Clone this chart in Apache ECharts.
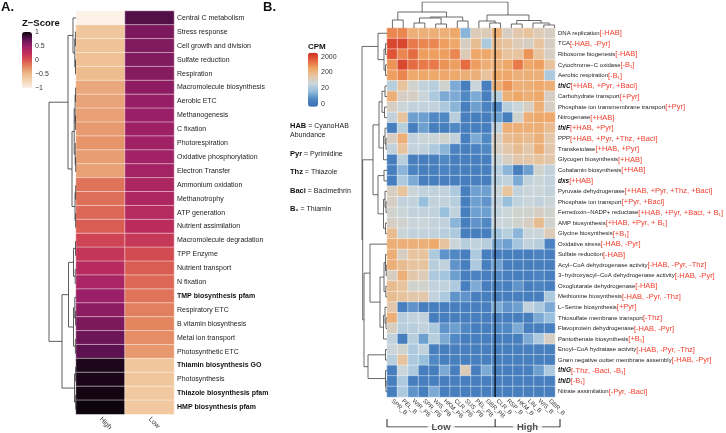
<!DOCTYPE html>
<html>
<head>
<meta charset="utf-8">
<script src="https://cdn.jsdelivr.net/npm/echarts@6/dist/echarts.min.js"></script>
<style>
html, body { margin: 0; padding: 0; background: #fff; }
#chart { width: 726px; height: 433px; }
</style>
</head>
<body>
<div id="chart"></div>
<script>
// ---------- panel A data ----------
const funcA = ['Central C metabolism', 'Stress response', 'Cell growth and division', 'Sulfate reduction',
    'Respiration', 'Macromolecule biosynthesis', 'Aerobic ETC', 'Methanogenesis', 'C fixation',
    'Photorespiration', 'Oxidative phosphorylation', 'Electron Transfer', 'Ammonium oxidation',
    'Methanotrophy', 'ATP generation', 'Nutrient assimilation', 'Macromolecule degradation',
    'TPP Enzyme', 'Nutrient transport', 'N fixation', 'TMP biosynthesis pfam', 'Respiratory ETC',
    'B vitamin biosynthesis', 'Metal ion transport', 'Photosynthetic ETC', 'Thiamin biosynthesis GO',
    'Photosynthesis', 'Thiazole biosynthesis pfam', 'HMP biosynthesis pfam'];
const boldA = ['TMP biosynthesis pfam', 'Thiamin biosynthesis GO', 'Thiazole biosynthesis pfam', 'HMP biosynthesis pfam'];
const groupsA = ['High', 'Low'];
const zHigh = [-1, -0.6, -0.57, -0.55, -0.52, -0.4, -0.38, -0.36, -0.33, -0.3, -0.35, -0.37, -0.15,
    -0.13, -0.1, -0.05, 0.1, 0.2, 0.3, 0.4, 0.5, 0.55, 0.62, 0.68, 0.75, 0.95, 0.96, 0.98, 1];
const zLow = [0.78, 0.62, 0.6, 0.6, 0.58, 0.55, 0.52, 0.5, 0.48, 0.46, 0.45, 0.44, 0.38, 0.36, 0.32,
    0.28, 0.18, 0.05, -0.05, -0.1, -0.15, -0.2, -0.23, -0.27, -0.32, -0.6, -0.6, -0.62, -0.62];
const zTicks = [-1, -0.5, 0, 0.5, 1];
const zTickLabels = ['\u22121', '\u22120.5', '0', '0.5', '1'];
// row dendrogram, nodes are [left, right, height]
const treeA = [[[0, [[1, 2, 0.6], [3, 4, 0.5], 1.2], 3],
    [[[[5, 6, 0.4], [7, 8, 0.4], 0.9], [9, [10, 11, 0.3], 0.8], 1.8], [[12, 13, 0.3], [14, 15, 0.3], 1.0], 4], 8],
    [[[[16, 17, 0.5], [18, 19, 0.8], 2.5], [[20, [21, 22, 0.4], 1.2], [23, 24, 0.6], 2.5], 7.5],
    [[25, 26, 0.3], [27, 28, 0.3], 1.5], 14], 27];

// ---------- panel B data ----------
const samplesB = ['SPR_B', 'PEL_B', 'WIR_PB', 'SPR_PB', 'WIS_PB', 'HKM_PB', 'CLR_PB', 'SUS_PB', 'PEL_PB',
    'GBR_PB', 'CLR_B', 'RSP_B', 'HKM_B', 'LIN_B', 'WIS_B', 'GBR_B'];
const sampleGroups = ['Low', 'High'];
const groupSizes = [10, 6];
const funcB = ['DNA replication', 'TCA', 'Ribosome biogenesis', 'Cytochrome\u2212C oxidase', 'Aerobic respiration',
    'thiC', 'Carbohydrate transport', 'Phosphate ion transmembrane transport', 'Nitrogenase', 'thiF', 'PPP',
    'Transketolase', 'Glycogen biosynthesis', 'Cobalamin biosynthesis', 'dxs', 'Pyruvate dehydrogenase',
    'Phosphate ion transport', 'Ferredoxin\u2212NADP+ reductase', 'AMP biosynthesis', 'Glycine biosynthesis',
    'Oxidative stress', 'Sulfate reduction', 'Acyl\u2212CoA dehydrogenase activity',
    '3\u2212hydroxyacyl\u2212CoA dehydrogenase activity', 'Oxoglutarate dehydrogenase', 'Methionine biosynthesis',
    'L\u2212Serine biosynthesis', 'Thiosulfate membrane transport', 'Flavoprotein dehydrogenase',
    'Pantothenate biosynthesis', 'Enoyl\u2212CoA hydratase activity', 'Gram negative outter membrane assembly',
    'thiG', 'thiD', 'Nitrate assimilation'];
const notesB = ['[-HAB]', '[-HAB, -Pyr]', '[-HAB]', '[-B\u2081]', '[-B\u2081]', '[+HAB, +Pyr, +Baci]', '[+Pyr]',
    '[+Pyr]', '[+HAB]', '[+HAB, +Pyr]', '[+HAB, +Pyr, +Thz, +Baci]', '[+HAB, +Pyr]', '[+HAB]', '[+HAB]',
    '[+HAB]', '[+HAB, +Pyr, +Thz, +Baci]', '[+Pyr, +Baci]', '[+HAB, +Pyr, +Baci, + B\u2081]',
    '[+HAB, +Pyr, + B\u2081]', '[+B\u2081]', '[-HAB, -Pyr]', '[-HAB]', '[-HAB, -Pyr, -Thz]', '[-HAB, -Pyr]',
    '[-HAB]', '[-HAB, -Pyr, -Thz]', '[+Pyr]', '[-Thz]', '[-HAB, -Pyr]', '[+B\u2081]', '[-HAB, -Pyr, -Thz]',
    '[-HAB, -Pyr]', '[-Thz, -Baci, -B\u2081]', '[-B\u2081]', '[-Pyr, -Baci]'];
const genesB = ['thiC', 'thiF', 'dxs', 'thiG', 'thiD'];
// colour level: 0 = 0 CPM, 1 = 20, 2 = 200, 3 = 2000
const cpmLevels = ['0', '20', '200', '2000'];
const cpmRows = [
    [2.5, 2.5, 2.1, 2.1, 2.1, 2.1, 2.2, 0.7, 1.6, 1.6, 2.1, 1.5, 1.7, 1.8, 1.6, 1.5],
    [3.0, 3.0, 2.6, 2.5, 2.5, 2.3, 2.2, 1.5, 1.9, 1.0, 1.9, 1.8, 1.6, 1.5, 1.8, 1.5],
    [2.9, 2.5, 2.7, 2.3, 2.3, 2.3, 2.5, 1.6, 2.2, 2.2, 2.1, 1.8, 1.8, 2.4, 1.8, 1.5],
    [2.4, 3.0, 2.7, 2.6, 2.6, 2.4, 2.3, 2.7, 2.3, 2.1, 2.1, 2.2, 2.6, 2.2, 2.3, 1.8],
    [2.3, 2.5, 2.2, 2.2, 2.2, 2.2, 2.2, 2.1, 2.1, 1.8, 2.2, 2.2, 2.1, 2.1, 2.1, 1.0],
    [1.1, 1.8, 1.4, 1.2, 1.1, 1.4, 0.6, 0.1, 1.3, 0.1, 2.1, 2.4, 2.1, 2.1, 2.2, 2.1],
    [2.1, 1.5, 1.5, 1.3, 1.0, 0.6, 0.6, 0.3, 0.6, 0.1, 1.1, 2.1, 2.2, 2.1, 2.2, 1.5],
    [1.5, 1.3, 1.2, 1.2, 1.2, 1.0, 0.7, 0.1, 0.5, 0.2, 0.3, 1.1, 1.3, 1.5, 2.1, 1.5],
    [1.2, 1.8, 0.5, 0.5, 0.3, 0.3, 1.1, 0.1, 0.1, 0.1, 0.5, 0.1, 1.4, 2.1, 2.2, 2.2],
    [0.1, 1.1, 0.1, 0.5, 0.1, 0.1, 0.3, 0.1, 0.1, 0.1, 1.2, 2.1, 2.1, 2.1, 2.1, 1.9],
    [1.5, 2.1, 1.2, 1.3, 1.3, 1.4, 1.2, 0.1, 0.6, 0.3, 1.5, 1.9, 2.0, 1.9, 2.1, 1.7],
    [1.2, 1.8, 1.2, 1.2, 1.0, 0.7, 0.2, 0.1, 0.2, 0.3, 1.5, 1.7, 1.9, 1.7, 2.1, 1.7],
    [0.1, 1.1, 0.1, 0.1, 0.1, 0.3, 0.1, 0.1, 0.1, 0.1, 1.3, 1.5, 1.7, 1.7, 1.8, 1.7],
    [0.1, 0.7, 0.2, 0.1, 0.1, 0.2, 0.1, 0.1, 0.1, 0.1, 1.1, 0.7, 0.1, 0.5, 1.4, 1.2],
    [0.1, 1.0, 0.6, 0.1, 0.1, 0.1, 0.1, 0.1, 0.1, 0.1, 1.1, 1.2, 0.6, 1.2, 1.3, 1.2],
    [1.5, 1.8, 1.3, 1.2, 1.2, 1.2, 1.0, 0.1, 0.5, 0.5, 1.3, 1.8, 1.2, 1.3, 1.3, 1.2],
    [1.5, 1.2, 1.2, 0.8, 1.2, 1.2, 1.1, 0.1, 0.5, 0.4, 1.2, 0.8, 1.2, 1.3, 1.2, 1.3],
    [1.4, 1.3, 1.2, 1.2, 1.2, 0.8, 1.2, 0.1, 0.5, 0.5, 1.2, 1.3, 1.4, 1.4, 1.5, 1.4],
    [1.5, 1.4, 1.3, 1.3, 1.2, 1.2, 0.7, 0.1, 0.4, 0.3, 1.3, 1.3, 1.4, 1.5, 1.9, 1.4],
    [1.9, 1.3, 1.2, 1.2, 1.2, 1.1, 1.0, 0.1, 0.1, 0.1, 0.9, 1.1, 0.7, 1.3, 1.3, 1.6],
    [2.1, 2.1, 2.1, 2.1, 2.2, 1.8, 1.3, 1.1, 1.2, 1.1, 0.6, 0.5, 0.9, 1.2, 1.1, 0.2],
    [2.1, 1.5, 1.8, 1.8, 1.0, 0.4, 0.3, 0.1, 1.0, 0.1, 0.1, 0.1, 0.1, 0.1, 0.2, 0.1],
    [2.1, 1.9, 1.8, 1.8, 1.1, 1.2, 0.4, 0.1, 1.0, 0.1, 0.5, 0.1, 0.1, 0.1, 0.1, 0.1],
    [1.5, 2.1, 1.7, 1.6, 1.0, 0.9, 0.5, 0.1, 0.2, 0.1, 0.3, 0.1, 0.1, 0.1, 0.2, 0.1],
    [1.9, 1.8, 1.4, 1.4, 1.2, 1.2, 1.0, 0.1, 0.6, 0.1, 0.2, 0.1, 0.4, 0.1, 0.2, 0.1],
    [1.9, 1.8, 1.7, 1.7, 1.2, 1.0, 0.4, 0.4, 0.1, 0.1, 0.1, 0.1, 0.1, 0.1, 0.1, 1.0],
    [1.7, 0.1, 0.4, 0.1, 0.1, 0.1, 0.1, 0.1, 0.1, 0.1, 0.6, 0.4, 0.5, 1.2, 1.0, 0.6],
    [2.1, 1.1, 1.2, 1.2, 0.1, 0.1, 0.1, 0.1, 0.1, 0.1, 0.1, 0.1, 0.1, 0.1, 0.6, 0.8],
    [1.5, 1.1, 1.1, 1.2, 1.0, 0.4, 0.5, 0.3, 0.1, 0.1, 0.3, 0.3, 0.6, 0.1, 0.1, 0.1],
    [1.2, 0.1, 1.1, 0.5, 1.1, 0.6, 0.3, 0.1, 0.1, 0.1, 0.1, 0.1, 0.1, 0.6, 1.0, 1.5],
    [1.3, 1.4, 1.0, 1.2, 0.1, 0.1, 0.1, 0.1, 0.1, 0.1, 0.1, 0.1, 0.1, 0.1, 0.1, 0.1],
    [1.1, 1.8, 1.0, 0.8, 0.3, 0.1, 0.1, 0.1, 0.1, 0.1, 0.1, 0.1, 0.1, 0.1, 0.1, 0.1],
    [0.1, 1.3, 1.0, 0.1, 0.1, 0.6, 0.1, 1.6, 0.1, 0.6, 0.1, 0.1, 0.1, 0.1, 0.5, 1.0],
    [0.1, 1.0, 0.1, 0.1, 0.1, 0.1, 0.1, 0.1, 0.1, 0.1, 0.1, 0.1, 0.1, 0.1, 0.1, 0.1],
    [0.1, 1.0, 0.4, 0.1, 0.6, 0.1, 0.1, 0.1, 0.1, 0.1, 0.1, 0.1, 0.1, 0.1, 0.1, 0.1]
];
const treeBRows = [[0, [[1, 2, 1.5], [3, 4, 1.5], 3], 9],
    [[[[[5, 6, 2], [7, 8, 2.5], 5], [[9, [10, 11, 1], 2], 12, 3.5], 8],
      [[13, 14, 3], [[15, [16, 17, 1], 2], [18, 19, 1.5], 3.5], 9], 14],
     [[20, [[[21, [22, 23, 0.8], 1.5], [24, 25, 1.2], 3], [[26, [27, 28, 1], 2], 29, 3.5], 7], 17],
      [[30, 31, 1.5], [32, [33, 34, 1], 1.5], 19], 23], 24.3], 25];
const treeBCols = [[[0, 1, 8], [[[2, 3, 5], [4, 5, 4], 10], [6, 7, 7], 11], 16],
    [[8, [9, 10, 5], 7], [[11, 12, 4], [13, [14, 15, 3], 5], 7.5], 13], 26];
const abbrevs = [['HAB', 'CyanoHAB\nAbundance'], ['Pyr', 'Pyrimidine'], ['Thz', 'Thiazole'],
    ['Baci', 'Bacimethrin'], ['B\u2081', 'Thiamin']];

// ---------- helpers ----------
const FONT = '"Liberation Sans", Arial, sans-serif';

// walk a tree, return U-shaped link paths as [height, leafPos] pairs
function dendro(tree) {
    const paths = [];
    function walk(node) {
        if (typeof node === 'number') return [0, node];
        const a = walk(node[0]);
        const b = walk(node[1]);
        const h = node[2];
        paths.push([[a[0], a[1]], [h, a[1]], [h, b[1]], [b[0], b[1]]]);
        return [h, (a[1] + b[1]) / 2];
    }
    walk(tree);
    return paths;
}

const heatA = [];
funcA.forEach((f, i) => {
    heatA.push([0, i, zHigh[i]]);
    heatA.push([1, i, zLow[i]]);
});
const heatB = [];
cpmRows.forEach((row, r) => row.forEach((v, c) => heatB.push([c, r, v])));

const rowLinksA = dendro(treeA).map(p => ({ coords: p }));
const rowLinksB = dendro(treeBRows).map(p => ({ coords: p }));
const colLinksB = dendro(treeBCols).map(p => ({ coords: p.map(q => [q[1], q[0]]) }));

// group boundaries for the divider and the bracket
const bounds = [-0.5];
groupSizes.forEach(n => bounds.push(bounds[bounds.length - 1] + n));
const divider = bounds.slice(1, -1).map(b => ({ coords: [[b, -0.5], [b, funcB.length - 0.5]] }));
const bracket = [{ coords: [[bounds[0], 0], [bounds[bounds.length - 1], 0]] }]
    .concat(bounds.map(b => ({ coords: [[b, 0], [b, 1]] })));
const bracketLabels = sampleGroups.map((g, i) => ({ value: [(bounds[i] + bounds[i + 1]) / 2, 0], name: g }));

const colorsA = ['#fbf1e6', '#f4d6b5', '#eebb8c', '#e48a62', '#d8524f', '#bf2e5c', '#9a1f68', '#5c1250', '#0d040d'];
const colorsB = ['#3b6fb4', '#4f87c4', '#97bfdd', '#c9d6dd', '#e6c5a2', '#efa462', '#e4653d', '#cf2920'];

const hidden = { show: false };
function hAxis(grid, extra) { return Object.assign({ gridIndex: grid, show: false }, extra); }

var chartDom = document.getElementById('chart');
var myChart = echarts.init(chartDom, null, { renderer: 'canvas' });
var option;

option = {
    animation: false,
    textStyle: { fontFamily: FONT },
    grid: [
        { left: 76, top: 11, width: 98, height: 405 },      // 0 A heatmap
        { left: 49, top: 11, width: 27, height: 405 },      // 1 A dendrogram
        { left: 387, top: 28, width: 173, height: 369 },    // 2 B heatmap
        { left: 362, top: 28, width: 25, height: 369 },     // 3 B row dendrogram
        { left: 387, top: 2, width: 173, height: 26 },      // 4 B column dendrogram
        { left: 387, top: 28, width: 173, height: 369 },    // 5 B divider
        { left: 387, top: 419, width: 173, height: 8 },     // 6 group bracket
        { left: 22, top: 32, width: 10, height: 56 },       // 7 z-score ticks
        { left: 308, top: 52.7, width: 10, height: 54 }     // 8 CPM ticks
    ],
    xAxis: [
        {
            gridIndex: 0, type: 'category', data: groupsA, position: 'bottom',
            axisLine: hidden, axisTick: hidden, splitLine: hidden,
            axisLabel: { rotate: -45, fontSize: 7, color: '#333', margin: 4 }
        },
        hAxis(1, { type: 'value', min: 0, max: 27, inverse: true }),
        {
            gridIndex: 2, type: 'category', data: samplesB, position: 'bottom',
            axisLine: hidden, axisTick: hidden, splitLine: hidden,
            axisLabel: { rotate: -45, fontSize: 6, color: '#333', margin: 3, interval: 0 }
        },
        hAxis(3, { type: 'value', min: 0, max: 25, inverse: true }),
        hAxis(4, { type: 'value', min: -0.5, max: samplesB.length - 0.5 }),
        hAxis(5, { type: 'value', min: -0.5, max: samplesB.length - 0.5 }),
        hAxis(6, { type: 'value', min: -0.5, max: samplesB.length - 0.5 }),
        hAxis(7, { type: 'value', min: 0, max: 1 }),
        hAxis(8, { type: 'value', min: 0, max: 1 })
    ],
    yAxis: [
        {
            gridIndex: 0, type: 'category', data: funcA, inverse: true, position: 'right',
            axisLine: hidden, axisTick: hidden, splitLine: hidden,
            axisLabel: {
                interval: 0, margin: 3, fontSize: 7, color: '#222',
                formatter: v => boldA.includes(v) ? '{b|' + v + '}' : '{n|' + v + '}',
                rich: {
                    n: { fontSize: 7, color: '#222', fontFamily: FONT },
                    b: { fontSize: 7, color: '#111', fontWeight: 'bold', fontFamily: FONT }
                }
            }
        },
        hAxis(1, { type: 'value', min: -0.5, max: funcA.length - 0.5, inverse: true }),
        {
            gridIndex: 2, type: 'category', data: funcB, inverse: true, position: 'right',
            axisLine: hidden, axisTick: hidden, splitLine: hidden,
            axisLabel: {
                interval: 0, margin: 3,
                formatter: (v, i) => (genesB.includes(v) ? '{g|' + v + '}' : '{n|' + v + '}') + '{r|' + notesB[i] + '}',
                rich: {
                    n: { fontSize: 6, color: '#222', fontFamily: FONT },
                    g: { fontSize: 6.5, color: '#111', fontWeight: 'bold', fontStyle: 'italic', fontFamily: FONT },
                    r: { fontSize: 7.5, color: '#f0402f', fontFamily: FONT }
                }
            }
        },
        hAxis(3, { type: 'value', min: -0.5, max: funcB.length - 0.5, inverse: true }),
        hAxis(4, { type: 'value', min: 0, max: 26 }),
        hAxis(5, { type: 'value', min: -0.5, max: funcB.length - 0.5, inverse: true }),
        hAxis(6, { type: 'value', min: 0, max: 1 }),
        {
            gridIndex: 7, type: 'value', min: -1, max: 1, position: 'right', z: 10,
            axisLine: hidden, splitLine: hidden,
            axisTick: { show: true, inside: true, length: 2, lineStyle: { color: '#fff' }, customValues: zTicks },
            axisLabel: {
                fontSize: 7, color: '#333', margin: 3, customValues: zTicks,
                formatter: v => zTickLabels[zTicks.indexOf(v)]
            }
        },
        {
            gridIndex: 8, type: 'value', min: -0.2, max: 3.25, position: 'right', z: 10,
            axisLine: hidden, splitLine: hidden,
            axisTick: { show: true, inside: true, length: 2, lineStyle: { color: '#fff' }, customValues: [0, 1, 2, 3] },
            axisLabel: {
                fontSize: 7, color: '#333', margin: 3, customValues: [0, 1, 2, 3],
                formatter: v => cpmLevels[Math.round(v)]
            }
        }
    ],
    visualMap: [
        {
            type: 'continuous', seriesIndex: 0, min: -1, max: 1, left: 22, top: 32,
            itemWidth: 10, itemHeight: 56, padding: 0, calculable: false, hoverLink: false,
            inRange: { color: colorsA }
        },
        {
            type: 'continuous', seriesIndex: 2, min: -0.2, max: 3.25, left: 308, top: 52.7,
            itemWidth: 10, itemHeight: 54, padding: 0, calculable: false, hoverLink: false,
            inRange: { color: colorsB }
        }
    ],
    graphic: [
        { type: 'text', x: 1, y: 1, style: { text: 'A.', font: 'bold 13px ' + FONT, fill: '#111' } },
        { type: 'text', x: 263, y: 1, style: { text: 'B.', font: 'bold 13px ' + FONT, fill: '#111' } },
        { type: 'text', x: 22, y: 18, style: { text: 'Z\u2212Score', font: 'bold 9.5px ' + FONT, fill: '#111' } },
        { type: 'text', x: 308, y: 43, style: { text: 'CPM', font: 'bold 8px ' + FONT, fill: '#111' } }
    ].concat(abbrevs.map((a, i) => ({
        type: 'text', x: 290, y: [122, 150, 168, 187, 205][i],
        style: {
            text: '{b|' + a[0] + '} = ' + a[1], font: '7px ' + FONT, fill: '#222', lineHeight: 8.5,
            rich: { b: { fontWeight: 'bold', fontSize: 7.5, fill: '#111', fontFamily: FONT } }
        }
    }))),
    series: [
        {
            type: 'heatmap', xAxisIndex: 0, yAxisIndex: 0, data: heatA,
            itemStyle: { borderColor: 'rgba(255,255,255,0.8)', borderWidth: 0.6 }
        },
        {
            type: 'lines', coordinateSystem: 'cartesian2d', polyline: true, xAxisIndex: 1, yAxisIndex: 1,
            data: rowLinksA, silent: true, lineStyle: { color: '#333', width: 0.8, opacity: 1 }
        },
        {
            type: 'heatmap', xAxisIndex: 2, yAxisIndex: 2, data: heatB,
            itemStyle: { borderColor: 'rgba(255,255,255,0.7)', borderWidth: 0.6 }
        },
        {
            type: 'lines', coordinateSystem: 'cartesian2d', polyline: true, xAxisIndex: 3, yAxisIndex: 3,
            data: rowLinksB, silent: true, lineStyle: { color: '#444', width: 0.8, opacity: 1 }
        },
        {
            type: 'lines', coordinateSystem: 'cartesian2d', polyline: true, xAxisIndex: 4, yAxisIndex: 4,
            data: colLinksB, silent: true, lineStyle: { color: '#444', width: 0.8, opacity: 1 }
        },
        {
            type: 'lines', coordinateSystem: 'cartesian2d', polyline: true, xAxisIndex: 5, yAxisIndex: 5,
            data: divider, silent: true, z: 5, lineStyle: { color: '#000', width: 1.2, opacity: 1 }
        },
        {
            type: 'lines', coordinateSystem: 'cartesian2d', polyline: true, xAxisIndex: 6, yAxisIndex: 6,
            data: bracket, silent: true, lineStyle: { color: '#222', width: 1, opacity: 1 }
        },
        {
            type: 'scatter', xAxisIndex: 6, yAxisIndex: 6, data: bracketLabels, symbolSize: 0, silent: true, z: 5,
            label: {
                show: true, position: 'inside', formatter: p => p.name, fontSize: 9.5, fontWeight: 'bold',
                color: '#222', backgroundColor: '#fff', padding: [0, 4]
            }
        }
    ]
};

option && myChart.setOption(option);
</script>
</body>
</html>
